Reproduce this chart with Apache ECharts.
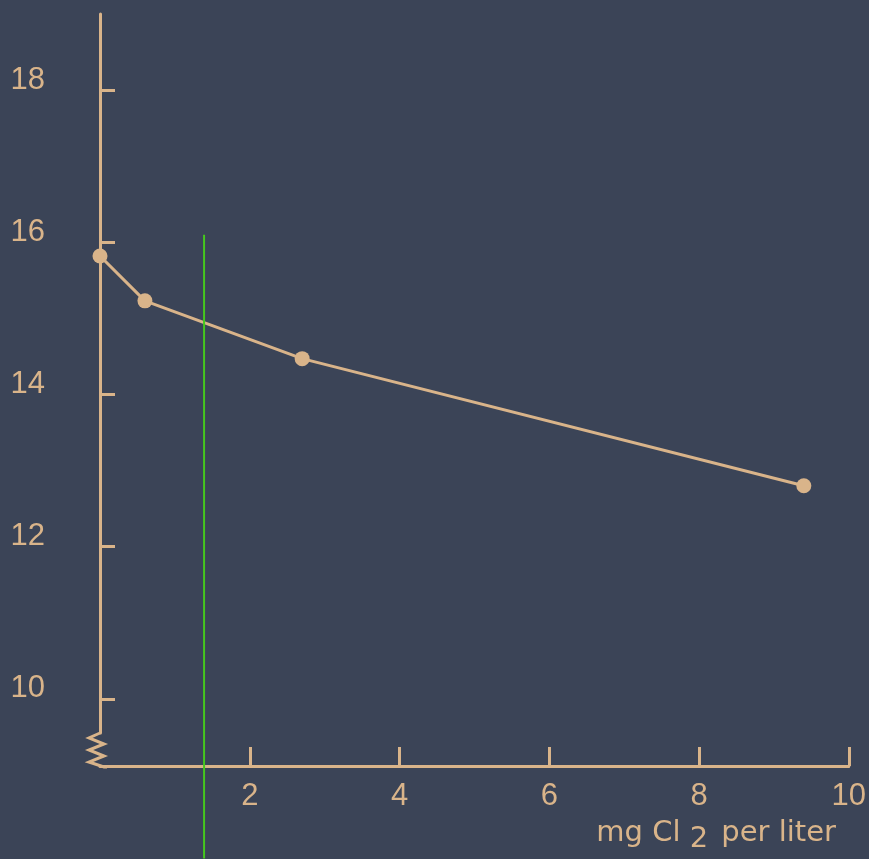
<!DOCTYPE html>
<html>
<head>
<meta charset="utf-8">
<script src="https://cdn.jsdelivr.net/npm/echarts@6/dist/echarts.min.js"></script>
<style>
  html, body { margin: 0; padding: 0; background: #3b4457; }
  #chart { width: 869px; height: 859px; }
</style>
</head>
<body>
<div id="chart"></div>
<script>
// chlorine dose (mg Cl2 per liter) vs measured value
const doses = [0, 0.6, 2.7, 9.4]
const values = [15.82, 15.23, 14.47, 12.8]
const xTicks = [2, 4, 6, 8, 10]
const yTicks = [10, 12, 14, 16, 18]
// green vertical marker line
const markerX = [1.39, 1.39]
const markerY = [16.1, 7.9]

const tan = '#d9b48a'
const chart = echarts.init(document.getElementById('chart'))

chart.setOption({
  backgroundColor: '#3b4457',
  animation: false,
  title: {
    right: 28,
    top: 808,
    text: '{a|mg Cl }{s|2}{a| per liter}',
    textStyle: {
      rich: {
        a: { color: tan, fontFamily: 'DejaVu Sans', fontWeight: 'normal', fontSize: 29 },
        s: { color: tan, fontFamily: 'DejaVu Sans', fontWeight: 'normal', fontSize: 29, padding: [12, 4, 0, 0] }
      }
    }
  },
  grid: { left: 100, right: 16, top: 14, bottom: 126 },
  xAxis: {
    type: 'value',
    min: 0,
    max: 10,
    offset: 33,
    splitLine: { show: false },
    axisLine: { lineStyle: { color: tan, width: 3 } },
    axisTick: { inside: true, length: 19, customValues: xTicks, lineStyle: { color: tan, width: 3 } },
    axisLabel: {
      customValues: xTicks, margin: 15, color: tan,
      fontFamily: 'Liberation Sans', fontSize: 31
    }
  },
  yAxis: {
    type: 'value',
    min: 9.55,
    max: 19,
    splitLine: { show: false },
    axisLine: { show: true, lineStyle: { color: tan, width: 3 } },
    axisTick: { inside: true, length: 15, customValues: yTicks, lineStyle: { color: tan, width: 3 } },
    axisLabel: {
      customValues: yTicks, margin: 55, color: tan,
      fontFamily: 'Liberation Sans', fontSize: 31,
      verticalAlign: 'bottom', lineHeight: 20
    }
  },
  graphic: [{
    type: 'polyline',
    shape: {
      points: [[100, 733], [89, 738], [104, 744], [89, 750], [104, 756], [89, 762], [104, 767], [107, 767]]
    },
    style: { stroke: tan, lineWidth: 3, fill: null }
  }],
  series: [
    {
      type: 'line',
      data: doses.map((d, i) => [d, values[i]]),
      symbol: 'circle',
      symbolSize: 15,
      clip: false,
      lineStyle: { color: tan, width: 3 },
      itemStyle: { color: tan }
    },
    {
      type: 'line',
      data: markerX.map((d, i) => [d, markerY[i]]),
      showSymbol: false,
      clip: false,
      lineStyle: { color: '#45c81e', width: 2 }
    }
  ]
})
</script>
</body>
</html>
